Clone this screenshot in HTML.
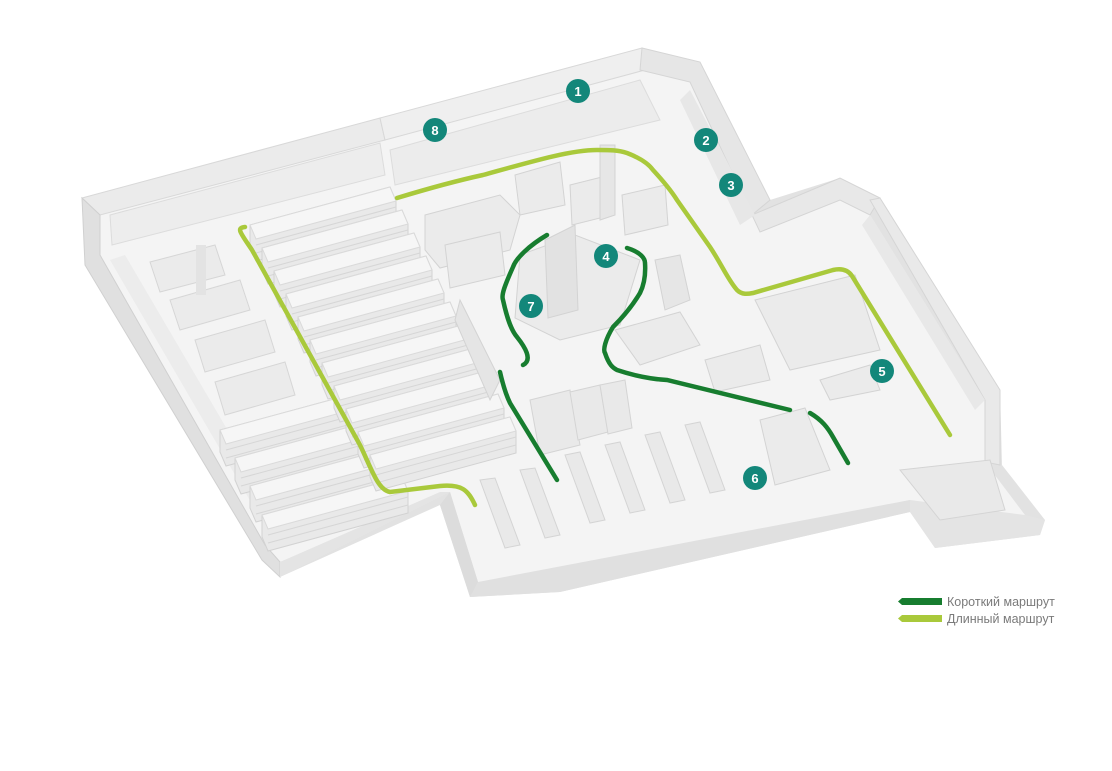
<!DOCTYPE html>
<html><head><meta charset="utf-8"><style>
html,body{margin:0;padding:0;background:#fff;width:1112px;height:771px;overflow:hidden}
svg{display:block}
.t{font-family:"Liberation Sans",sans-serif;font-size:12.5px;fill:#7a7a7a}
.n{font-family:"Liberation Sans",sans-serif;font-size:13px;font-weight:bold;fill:#fff;text-anchor:middle}
</style></head><body>
<svg width="1112" height="771" viewBox="0 0 1112 771">
<defs>
<g id="row"><polygon points="0,10 140,-28 146,-14 146,8 6,46 0,32" fill="#e9e9e9" stroke="#d2d2d2"/><polygon points="0,10 140,-28 146,-14 6,24" fill="#f6f6f6" stroke="#dadada"/><path d="M6,30 L146,-8 M6,38 L146,0" stroke="#d6d6d6"/></g>
</defs>
<!-- base slab -->
<polygon points="82,198 380,118 642,48 700,62 770,200 840,178 880,198 1000,390 1002,465 1045,520 1040,535 935,548 910,512 560,592 470,597 440,505 280,577 262,560 85,265" fill="#e2e2e2"/>
<!-- floor -->
<polygon points="100,215 385,138 640,68 690,80 755,215 840,195 870,215 985,400 985,462 1025,515 940,530 910,500 560,578 478,582 450,492 280,562 265,545 100,255" fill="#f4f4f4"/>
<!-- walls -->
<polygon points="82,198 380,118 385,140 100,215" fill="#ebebeb" stroke="#d8d8d8"/>
<polygon points="380,118 642,48 645,70 385,140" fill="#efefef" stroke="#d8d8d8"/>
<polygon points="642,48 700,62 770,200 752,215 690,82 640,70" fill="#e6e6e6" stroke="#d5d5d5"/>
<polygon points="752,215 840,178 880,198 870,215 840,200 760,232" fill="#e8e8e8" stroke="#d5d5d5"/>
<polygon points="870,200 880,198 1000,390 1000,465 985,462 985,400" fill="#e9e9e9" stroke="#d5d5d5"/>
<polygon points="82,198 100,215 100,255 265,545 280,562 280,577 262,560 85,265" fill="#e0e0e0" stroke="#d0d0d0"/>
<polygon points="280,562 440,492 450,492 280,577" fill="#e4e4e4"/>
<polygon points="450,492 478,582 470,597 440,505" fill="#dcdcdc"/>
<polygon points="478,582 910,500 910,512 560,592 470,597" fill="#e0e0e0"/>
<polygon points="910,500 1025,515 1045,520 1040,535 935,548 910,512" fill="#e4e4e4"/>
<!-- wall shelves -->
<polygon points="110,215 380,143 385,175 112,245" fill="#ededed" stroke="#dcdcdc"/>
<polygon points="390,150 640,80 660,120 395,185" fill="#ececec" stroke="#dcdcdc"/>
<polygon points="690,90 755,215 740,225 680,100" fill="#e7e7e7"/>
<polygon points="870,215 985,400 975,410 862,225" fill="#e8e8e8"/>
<polygon points="110,260 270,535 285,528 125,255" fill="#ececec"/>
<!-- left freezers -->
<g fill="#ebebeb" stroke="#d6d6d6">
<polygon points="150,262 215,245 225,275 160,292"/>
<polygon points="170,300 240,280 250,310 180,330"/>
<polygon points="195,340 265,320 275,352 205,372"/>
<polygon points="215,382 285,362 295,395 225,415"/>
</g>
<rect x="196" y="245" width="10" height="50" fill="#e3e3e3"/>
<!-- aisle rows left -->
<use href="#row" x="220" y="420"/><use href="#row" x="235" y="448"/><use href="#row" x="250" y="476"/><use href="#row" x="262" y="505"/>
<use href="#row" x="250" y="215"/><use href="#row" x="262" y="238"/><use href="#row" x="274" y="261"/><use href="#row" x="286" y="284"/>
<use href="#row" x="298" y="307"/><use href="#row" x="310" y="330"/><use href="#row" x="322" y="353"/><use href="#row" x="334" y="376"/>
<use href="#row" x="346" y="399"/><use href="#row" x="358" y="422"/><use href="#row" x="370" y="445"/>
<!-- center blocks -->
<g fill="#ebebeb" stroke="#d3d3d3">
<polygon points="425,215 500,195 520,215 510,250 440,268 425,250"/>
<polygon points="445,245 500,232 505,275 450,288"/>
<polygon points="515,175 560,162 565,205 520,215"/>
<polygon points="570,185 610,175 612,215 572,225"/>
<polygon points="622,195 665,185 668,225 625,235"/>
<polygon points="520,255 575,235 640,260 620,325 560,340 515,318"/>
<polygon points="600,145 615,145 615,215 600,220" fill="#e6e6e6"/>
<polygon points="545,240 575,225 578,310 548,318" fill="#e2e2e2"/>
<polygon points="655,260 680,255 690,300 665,310" fill="#e6e6e6"/>
<polygon points="615,330 680,312 700,345 640,365"/>
<polygon points="705,360 760,345 770,380 715,392"/>
<polygon points="755,300 855,275 880,350 790,370"/>
<polygon points="820,380 870,365 880,390 830,400"/>
<polygon points="760,420 805,408 830,470 775,485"/>
<polygon points="460,300 500,380 490,400 455,320" fill="#e5e5e5"/>
</g>
<!-- checkouts -->
<g fill="#e9e9e9" stroke="#d4d4d4">
<polygon points="530,400 570,390 580,445 540,455"/>
<polygon points="570,392 600,385 608,432 578,440"/>
<polygon points="600,385 625,380 632,428 608,434"/>
<polygon points="480,480 495,478 520,545 505,548"/>
<polygon points="520,470 535,468 560,535 545,538"/>
<polygon points="565,455 580,452 605,520 590,523"/>
<polygon points="605,445 620,442 645,510 630,513"/>
<polygon points="645,435 660,432 685,500 670,503"/>
<polygon points="685,425 700,422 725,490 710,493"/>
<polygon points="900,470 990,460 1005,510 940,520"/>
</g>
<!-- routes -->
<g fill="none" stroke-linecap="round" stroke-width="4.5">
<path d="M475,505 C468,490 462,484 440,486 L390,492 C378,490 372,470 360,445 L252,250 C240,232 236,228 245,227" stroke="#a9c93b"/>
<path d="M397,198 C430,188 460,180 483,175 C530,162 570,150 597,150 C610,150 618,150 627,153 C640,158 648,163 653,170 C665,183 672,192 677,200 L710,247 C722,265 728,280 737,290 C742,295 748,294 753,293 L833,270 C842,268 848,270 852,276 L950,435" stroke="#a9c93b"/>
<path d="M547,235 C530,245 516,258 513,267 C505,285 501,295 503,300 C507,318 511,330 517,337 C525,347 533,360 523,365" stroke="#177d2f"/>
<path d="M500,372 C503,385 506,395 510,403 L557,480" stroke="#177d2f"/>
<path d="M627,248 C640,252 645,258 645,263 C646,278 643,287 640,293 C630,310 618,322 613,327 C605,340 603,350 605,353 C609,365 613,368 617,370 C635,376 650,379 667,380 L790,410" stroke="#177d2f"/>
<path d="M810,413 C822,420 828,428 833,437 L848,463" stroke="#177d2f"/>
</g>
<!-- markers -->
<g fill="#13877a">
<circle cx="578" cy="91" r="12"/><circle cx="706" cy="140" r="12"/><circle cx="731" cy="185" r="12"/><circle cx="606" cy="256" r="12"/>
<circle cx="882" cy="371" r="12"/><circle cx="755" cy="478" r="12"/><circle cx="531" cy="306" r="12"/><circle cx="435" cy="130" r="12"/>
</g>
<text class="n" x="578" y="96">1</text><text class="n" x="706" y="145">2</text><text class="n" x="731" y="190">3</text><text class="n" x="606" y="261">4</text>
<text class="n" x="882" y="376">5</text><text class="n" x="755" y="483">6</text><text class="n" x="531" y="311">7</text><text class="n" x="435" y="135">8</text>
<!-- legend -->
<polygon points="902,598 942,598 942,605 902,605 898,601.5" fill="#177d2f"/>
<polygon points="902,615 942,615 942,622 902,622 898,618.5" fill="#a9c93b"/>
<text class="t" x="947" y="606">Короткий маршрут</text>
<text class="t" x="947" y="623">Длинный маршрут</text>
</svg>
</body></html>
